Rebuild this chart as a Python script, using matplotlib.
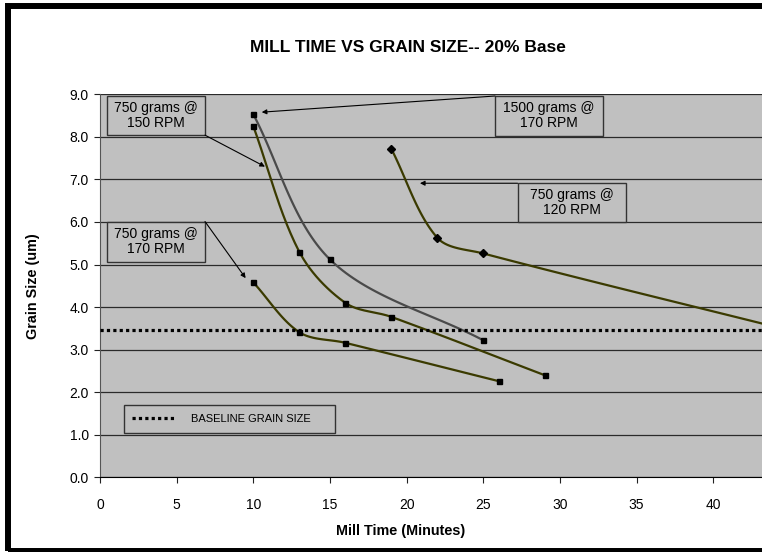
import numpy as np
import matplotlib
matplotlib.use("Agg")
import matplotlib.pyplot as plt
from matplotlib.lines import Line2D
from matplotlib.patches import Rectangle

plt.rcParams['font.family'] = ['Liberation Sans', 'DejaVu Sans']

# data
time_750_150 = [10, 13, 16, 19, 29]
size_750_150 = [8.25, 5.3, 4.1, 3.77, 2.4]

time_1500_170 = [10, 15, 25]
size_1500_170 = [8.53, 5.12, 3.22]

time_750_170 = [10, 13, 16, 26]
size_750_170 = [4.58, 3.41, 3.16, 2.26]

time_750_120 = [19, 22, 25, 45]
size_750_120 = [7.72, 5.63, 5.26, 3.45]

baseline_size = 3.47

OLIVE = '#3a3a00'
DARK = '#4a4a4a'
BG = '#c0c0c0'

# px per data unit, used so the smoothing works in screen space like Excel
SX, SY = 15.33, 42.56


def smooth(xs, ys, n=40):
    """Bezier smoothing through the points, tangents scaled by segment length"""
    pts = np.column_stack([np.array(xs) * SX, np.array(ys) * SY]).astype(float)
    pts = np.vstack([pts[0], pts, pts[-1]])
    out = []
    for i in range(1, len(pts) - 2):
        p0, p1, p2, p3 = pts[i - 1], pts[i], pts[i + 1], pts[i + 2]
        l01 = np.hypot(*(p1 - p0))
        l12 = np.hypot(*(p2 - p1))
        l23 = np.hypot(*(p3 - p2))
        c1 = p1 + (p2 - p0) * l12 / (l01 + l12) / 3.0
        c2 = p2 - (p3 - p1) * l12 / (l12 + l23) / 3.0
        t = np.linspace(0, 1, n)[:, None]
        seg = ((1 - t) ** 3) * p1 + 3 * ((1 - t) ** 2) * t * c1 + 3 * (1 - t) * t ** 2 * c2 + t ** 3 * p2
        out.append(seg if i == 1 else seg[1:])
    out = np.vstack(out)
    return out[:, 0] / SX, out[:, 1] / SY


fig = plt.figure(figsize=(7.62, 5.52), dpi=100)
ax = fig.add_axes([100 / 762, 1 - 477.3 / 552, 662 / 762, 383 / 552])
ax.set_facecolor(BG)

ax.set_xlim(0, 662 / SX)
ax.set_ylim(0, 9)
ax.set_xticks(range(0, 45, 5))
ax.set_yticks(range(0, 10))
ax.set_yticklabels(['%.1f' % v for v in range(0, 10)])
ax.yaxis.grid(True, color='#2a2a2a', lw=0.9)
ax.set_axisbelow(True)
ax.tick_params(axis='both', direction='out', length=4, width=0.8, labelsize=10, color='#222222')
ax.tick_params(axis='x', pad=11)
ax.tick_params(axis='y', pad=4)
for s in ['top', 'right']:
    ax.spines[s].set_visible(False)
ax.spines['left'].set_color('#555555')
ax.spines['bottom'].set_color('black')

# series
for xs, ys, col, mk, ms in [
    (time_750_150, size_750_150, OLIVE, 's', 3.6),
    (time_1500_170, size_1500_170, DARK, 's', 3.6),
    (time_750_170, size_750_170, OLIVE, 's', 3.6),
    (time_750_120, size_750_120, OLIVE, 'D', 4.2),
]:
    sx, sy = smooth(xs, ys)
    ax.plot(sx, sy, color=col, lw=1.6, zorder=3)
    ax.plot(xs, ys, ls='none', marker=mk, ms=ms, color='black', zorder=4)

ax.axhline(baseline_size, color='black', lw=2.3, ls=(0, (1, 1)), zorder=3)

# annotation boxes: (text, x0, x1, y0, y1, arrow start, arrow tip)
notes = [
    ('750 grams @\n150 RPM', 0.48, 6.85, 8.04, 8.97, (6.85, 8.04), (10.76, 7.30)),
    ('750 grams @\n170 RPM', 0.48, 6.85, 5.07, 6.01, (6.85, 6.01), (9.5, 4.68)),
    ('1500 grams @\n170 RPM', 25.77, 32.83, 8.03, 8.96, (25.77, 8.96), (10.55, 8.58)),
    ('750 grams @\n120 RPM', 27.24, 34.31, 5.99, 6.91, (27.24, 6.91), (20.87, 6.91)),
]
for txt, x0, x1, y0, y1, start, tip in notes:
    ax.add_patch(Rectangle((x0, y0), x1 - x0, y1 - y0, facecolor=BG,
                           edgecolor='#333333', lw=1, zorder=5))
    ax.text((x0 + x1) / 2, (y0 + y1) / 2, txt, ha='center', va='center',
            fontsize=10, linespacing=1.1, zorder=6)
    ax.annotate('', xy=tip, xytext=start, zorder=5,
                arrowprops=dict(arrowstyle='-|>', color='black', lw=0.8,
                                mutation_scale=7, shrinkA=0, shrinkB=0))

# legend
handle = Line2D([], [], color='black', lw=2.3, ls=(0, (1, 1)))
leg = ax.legend([handle], ['BASELINE GRAIN SIZE'], loc='center left',
                bbox_to_anchor=(18 / 662, 0.110, 223 / 662, 0.083), mode='expand',
                fancybox=False, facecolor=BG, edgecolor='#333333', framealpha=1,
                prop={'family': ['Liberation Sans Narrow', 'Liberation Sans'], 'size': 8},
                handlelength=3.9, handletextpad=1.4, borderpad=0.8)
leg.get_frame().set_linewidth(1)

fig.text(408 / 762, 1 - 47 / 552, 'MILL TIME VS GRAIN SIZE-- 20% Base',
         ha='center', va='center', fontsize=12.5, fontweight='bold')
fig.text(401 / 762, 1 - 531 / 552, 'Mill Time (Minutes)',
         ha='center', va='center', fontsize=10.4, fontweight='bold')
fig.text(33 / 762, 1 - 286 / 552, 'Grain Size (um)', rotation=90,
         ha='center', va='center', fontsize=10.4, fontweight='bold')

# outer chart border
fig.patches.append(Rectangle((7.5 / 762, 1 / 552), 900 / 762, 544.7 / 552,
                             transform=fig.transFigure, fill=False,
                             edgecolor='black', lw=4.3))

fig.savefig('out.png', dpi=100)
